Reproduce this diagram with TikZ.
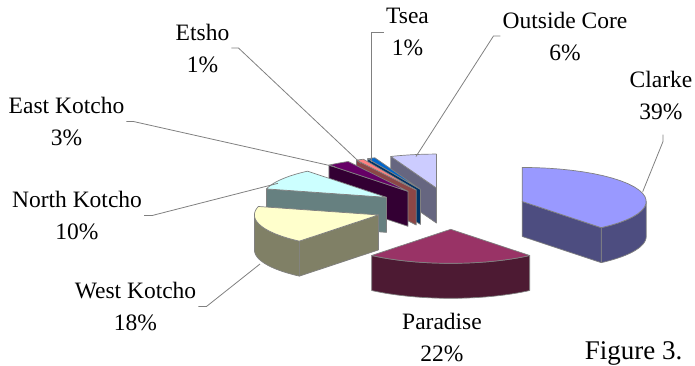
\documentclass[tikz,border=0pt]{standalone}
\usepackage{fontspec}
\setmainfont{Liberation Serif}
\newfontfamily\labelfont{Liberation Serif}

\definecolor{clarketop}{HTML}{9999FF}
\definecolor{clarkeside}{HTML}{4D4D80}
\definecolor{paradisetop}{HTML}{993366}
\definecolor{paradiseside}{HTML}{4D1A33}
\definecolor{westtop}{HTML}{FFFFCC}
\definecolor{westside}{HTML}{808066}
\definecolor{northtop}{HTML}{CCFFFF}
\definecolor{northside}{HTML}{668080}
\definecolor{easttop}{HTML}{660066}
\definecolor{eastside}{HTML}{330033}
\definecolor{etshotop}{HTML}{FF8080}
\definecolor{etshoside}{HTML}{8C4646}
\definecolor{tseatop}{HTML}{0066CC}
\definecolor{tseaside}{HTML}{003366}
\definecolor{outsidetop}{HTML}{CCCCFF}
\definecolor{outsideside}{HTML}{666680}

\tikzset{
  lbl/.style={align=center, anchor=base, inner sep=2pt, font=\labelfont\fontsize{23.5}{32}\selectfont},
  leader/.style={draw=gray, line width=0.8pt},
  pieedge/.style={draw=gray, line width=0.7pt, line join=round},
}

% one exploded 3d slice: start angle, end angle (clockwise from the back), top colour, side colour
\newcommand{\pieslice}[4]{%
  \pgfmathsetmacro{\slmid}{(#1+#2)/2}%
  \pgfmathsetmacro{\slcx}{450.7+76*sin(\slmid)}%
  \pgfmathsetmacro{\slcy}{208.5-20.8*cos(\slmid)}%
  \pgfmathsetmacro{\slra}{max(#1,90)}%
  \pgfmathsetmacro{\slrb}{min(#2,270)}%
  % outer rim
  \ifdim\slra pt<\slrb pt
    \filldraw[pieedge, fill=#4] plot[domain=\slra:\slrb, variable=\ang, samples=25] ({\slcx+124*sin(\ang)}, {\slcy-34*cos(\ang)})
      -- plot[domain=\slrb:\slra, variable=\ang, samples=25] ({\slcx+124*sin(\ang)}, {\slcy-34*cos(\ang)+35}) -- cycle;
  \fi
  % cut faces
  \ifdim #1pt>180pt
    \filldraw[pieedge, fill=#4] (\slcx,\slcy) -- ++({124*sin(#1)},{-34*cos(#1)}) -- ++(0,35) -- (\slcx,\slcy+35) -- cycle;
  \fi
  \ifdim #2pt<180pt
    \filldraw[pieedge, fill=#4] (\slcx,\slcy) -- ++({124*sin(#2)},{-34*cos(#2)}) -- ++(0,35) -- (\slcx,\slcy+35) -- cycle;
  \fi
  % top
  \filldraw[pieedge, fill=#3] (\slcx,\slcy) -- plot[domain=#1:#2, variable=\ang, samples=25] ({\slcx+124*sin(\ang)}, {\slcy-34*cos(\ang)}) -- cycle;
}

\begin{document}
\begin{tikzpicture}[x=1pt, y=-1pt]
    \useasboundingbox (0,0) rectangle (695,365);

    % slices, back to front
    \pieslice{338.4}{360}{outsidetop}{outsideside}
    \pieslice{334.8}{338.4}{tseatop}{tseaside}
    \pieslice{331.2}{334.8}{etshotop}{etshoside}
    \pieslice{320.4}{331.2}{easttop}{eastside}
    \pieslice{284.4}{320.4}{northtop}{northside}
    \pieslice{219.6}{284.4}{westtop}{westside}
    \pieslice{0}{140.4}{clarketop}{clarkeside}
    \pieslice{140.4}{219.6}{paradisetop}{paradiseside}

    % labels (base = baseline of the second line)
    \node [lbl] (etsho) at (202.5, 72) {Etsho\\1\%};
    \node [lbl] (tsea) at (407.5, 55.5) {Tsea\\1\%};
    \node [lbl] (outside) at (565, 60) {Outside Core\\6\%};
    \node [lbl] (clarke) at (661, 119) {Clarke\\39\%};
    \node [lbl] (eastk) at (66.5, 145.5) {East Kotcho\\3\%};
    \node [lbl] (northk) at (77, 239.5) {North Kotcho\\10\%};
    \node [lbl] (westk) at (135.5, 330.5) {West Kotcho\\18\%};
    \node [lbl] (paradise) at (442, 361) {Paradise\\22\%};
    \node [anchor=base, inner sep=0pt, font=\labelfont\fontsize{27}{32}\selectfont] (figcap) at (633.5, 359) {Figure 3.};

    % leader lines
    \coordinate (etshoend) at (360.7, 163.3);
    \coordinate (tseaend) at (371.7, 161.7);
    \coordinate (outsideend) at (416, 156.5);
    \coordinate (clarkeend) at (642.7, 191.7);
    \coordinate (eastend) at (335, 166.7);
    \coordinate (northend) at (278, 183.3);
    \coordinate (westend) at (260, 264);
    \draw [leader] (etsho.east) -- ++(7, 0) -- (etshoend);
    \draw [leader] (tsea.west) -| (tseaend);
    \draw [leader] (outside.west) -- ++(-7, 0) -- (outsideend);
    \draw [leader] (clarke.south) ++(2, 13) -- ++(0, 7) -- (clarkeend);
    \draw [leader] (eastk.east) -- ++(7, 0) -- (eastend);
    \draw [leader] (northk.east) -- ++(8, 0) -- (northend);
    \draw [leader] (westk.east) -- ++(8, 0) -- (westend);
\end{tikzpicture}
\end{document}
